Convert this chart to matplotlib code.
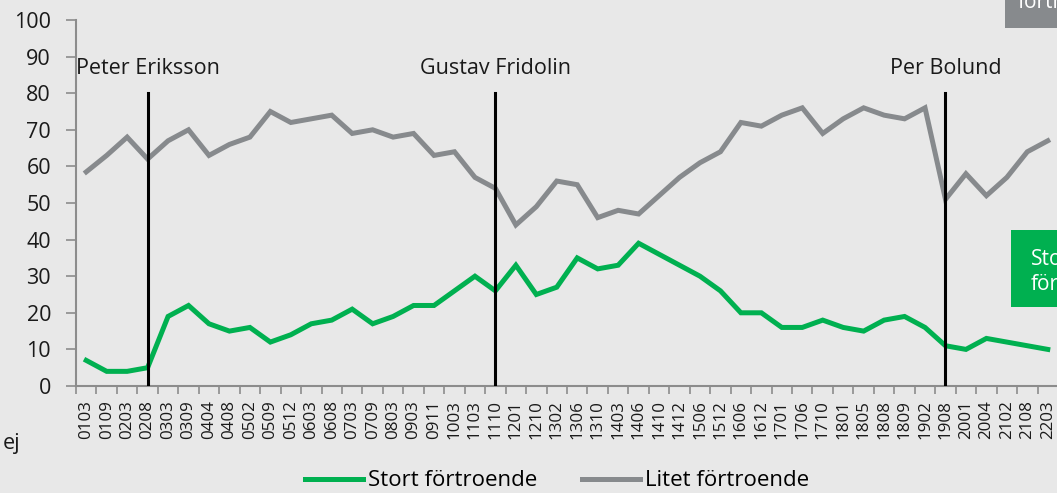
import numpy as np
import matplotlib.pyplot as plt
from matplotlib.ticker import FixedLocator
from matplotlib.patches import Rectangle

plt.rcParams['font.family'] = ['Open Sans', 'DejaVu Sans']

periods = ["0103", "0109", "0203", "0208", "0303", "0309", "0404", "0408", "0502", "0509",
           "0512", "0603", "0608", "0703", "0709", "0803", "0903", "0911", "1003", "1103",
           "1110", "1201", "1210", "1302", "1306", "1310", "1403", "1406", "1410", "1412",
           "1506", "1512", "1606", "1612", "1701", "1706", "1710", "1801", "1805", "1808",
           "1809", "1902", "1908", "2001", "2004", "2102", "2108", "2203"]

stort = [7, 4, 4, 5, 19, 22, 17, 15, 16, 12,
         14, 17, 18, 21, 17, 19, 22, 22, 26, 30,
         26, 33, 25, 27, 35, 32, 33, 39, 36, 33,
         30, 26, 20, 20, 16, 16, 18, 16, 15, 18,
         19, 16, 11, 10, 13, 12, 11, 10]

litet = [58.5, 63, 68, 62, 67, 70, 63, 66, 68, 75,
         72, 73, 74, 69, 70, 68, 69, 63, 64, 57,
         54, 44, 49, 56, 55, 46, 48, 47, 52, 57,
         61, 64, 72, 71, 74, 76, 69, 73, 76, 74,
         73, 76, 51, 58, 52, 57, 64, 67]

# party spokespersons taking office
leaders = ["Peter Eriksson", "Gustav Fridolin", "Per Bolund"]
leader_at = ["0208", "1110", "1908"]

BG = "#E8E8E8"
GREEN = "#00B050"
GREY = "#878A8D"
AXC = "#8C8C8C"
TXT = "#1a1a1a"
W, H = 1057, 493

fig = plt.figure(figsize=(W / 100, H / 100), dpi=100, facecolor=BG)
ax = fig.add_axes([76 / W, 1 - 386 / H, 982 / W, 366 / H], facecolor=BG)

x = np.arange(len(periods))
ax.plot(x, stort, color=GREEN, lw=3.6, solid_joinstyle="miter", label="Stort förtroende", zorder=3)
ax.plot(x, litet, color=GREY, lw=3.6, solid_joinstyle="miter", label="Litet förtroende", zorder=3)

for name, p in zip(leaders, leader_at):
    i = periods.index(p)
    ax.plot([i, i], [0, 80], color="black", lw=2.2, zorder=4)
    ax.text(i, 86.8, name, ha="center", va="center", fontsize=15.5, color=TXT)

ax.set_xlim(-0.5, len(periods) - 0.5)
ax.set_ylim(0, 100)
ax.set_yticks(range(0, 101, 10))
ax.set_xticks(x)
ax.set_xticklabels(periods, rotation=90, fontsize=12.2, color=TXT)
ax.xaxis.set_minor_locator(FixedLocator(np.arange(-0.5, len(periods), 1)))
ax.tick_params(axis="x", which="major", length=0, pad=10)
ax.tick_params(axis="x", which="minor", length=6, color=AXC, width=1.2)
ax.tick_params(axis="y", length=7, color=AXC, width=1.2, labelsize=15.5, labelcolor=TXT, pad=11)

for s in ["top", "right"]:
    ax.spines[s].set_visible(False)
for s in ["left", "bottom"]:
    ax.spines[s].set_color(AXC)
    ax.spines[s].set_linewidth(1.5)

# labels clipped at the right edge
fig.patches.append(Rectangle((1005 / W, 1 - 28 / H), 60 / W, 40 / H, transform=fig.transFigure,
                             fc=GREY, ec="none"))
fig.text(1018 / W, 1 - 13 / H, "Litet\nförtroende", color="white", fontsize=15,
         ha="left", va="bottom", linespacing=1.1)
fig.patches.append(Rectangle((1011 / W, 1 - 307 / H), 60 / W, 77 / H, transform=fig.transFigure,
                             fc=GREEN, ec="none"))
fig.text(1031 / W, 1 - 272 / H, "Stort\nförtroende", color="white", fontsize=15,
         ha="left", va="center", linespacing=1.25)
fig.text(3 / W, 1 - 443 / H, "ej", fontsize=15.5, color=TXT, va="center")

fig.legend(loc="center", bbox_to_anchor=(557 / W, 1 - 481 / H), ncol=2, frameon=False,
           fontsize=16, handlelength=2.6, columnspacing=2.0, handletextpad=0.25)

fig.savefig("out.png", dpi=100, facecolor=BG)
